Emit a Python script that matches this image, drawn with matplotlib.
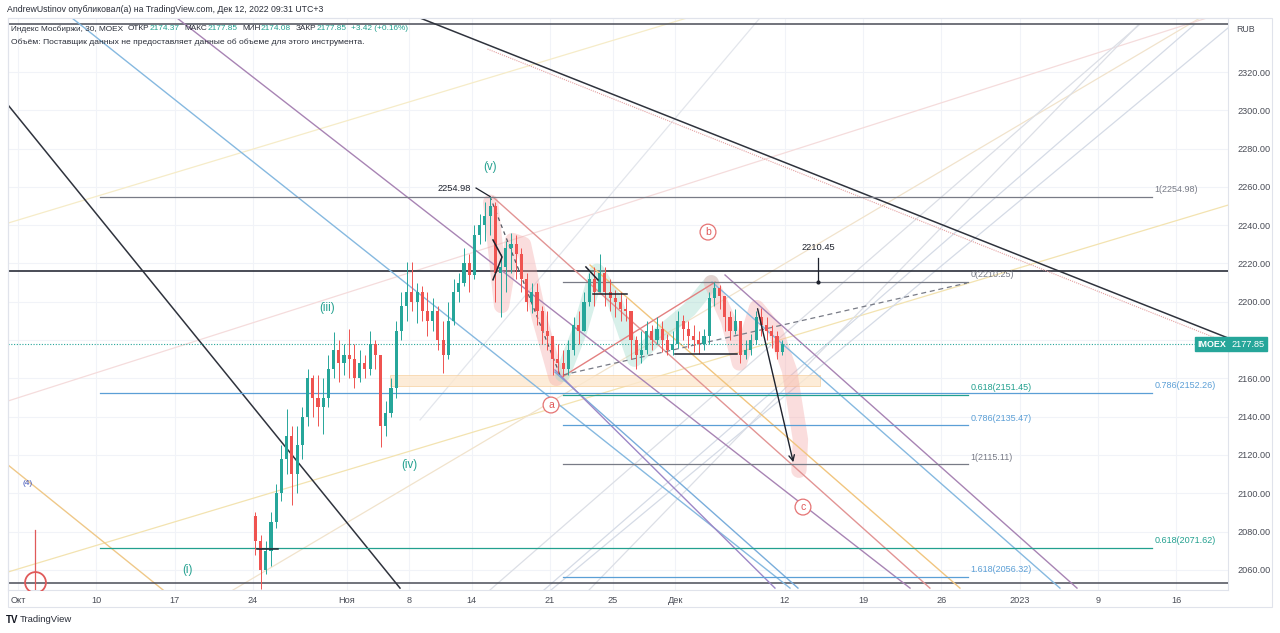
import matplotlib
matplotlib.use("Agg")
import matplotlib.pyplot as plt
from matplotlib.patches import Rectangle
import numpy as np

plt.rcParams['font.family'] = ['Liberation Sans', 'DejaVu Sans']

# time axis = trading-day index, 0 = 3 Oct 2022
tick_pos = [0, 5, 10, 15, 21, 25, 29, 34, 38, 42, 49, 54, 59, 64, 69, 74]
tick_labels = ['Окт', '10', '17', '24', 'Ноя', '8', '14', '21', '25', 'Дек',
               '12', '19', '26', '2023', '9', '16']
price_ticks = list(range(2060, 2340, 20))
last_price = 2177.85

# 30m candles, thinned to 3 per day, from 24 Oct (index 15)
first_day = 15
bars_per_day = 3
first_open = 2088
closes = [2075, 2060, 2070, 2085, 2100, 2118, 2130, 2110, 2125, 2140, 2160, 2150,
          2145, 2150, 2165, 2175, 2168, 2172, 2170, 2160, 2168, 2165, 2178, 2172,
          2135, 2142, 2155, 2185, 2198, 2205, 2200, 2205, 2195, 2190, 2195, 2180,
          2172, 2190, 2205, 2210, 2220, 2214, 2235, 2240, 2245, 2250, 2215, 2218,
          2228, 2230, 2225, 2212, 2200, 2205, 2195, 2185, 2182, 2170, 2168, 2165,
          2175, 2188, 2185, 2200, 2212, 2205, 2215, 2205, 2202, 2200, 2196, 2195,
          2180, 2172, 2175, 2185, 2180, 2186, 2180, 2175, 2178, 2190, 2186, 2182,
          2180, 2178, 2182, 2202, 2207, 2203, 2192, 2185, 2190, 2172, 2175, 2180,
          2192, 2188, 2185, 2182, 2174, 2177.85]
highs = [2090, 2078, 2075, 2090, 2105, 2125, 2144, 2135, 2135, 2145, 2165, 2162,
         2162, 2160, 2172, 2184, 2180, 2178, 2186, 2178, 2175, 2172, 2185, 2180,
         2158, 2148, 2160, 2190, 2205, 2221, 2221, 2210, 2208, 2205, 2202, 2198,
         2190, 2200, 2212, 2215, 2228, 2225, 2240, 2246, 2252, 2254.98, 2252, 2225,
         2232, 2236, 2235, 2228, 2215, 2210, 2210, 2198, 2195, 2182, 2178, 2175,
         2180, 2192, 2195, 2205, 2215, 2218, 2225, 2218, 2212, 2206, 2205, 2202,
         2195, 2182, 2185, 2190, 2188, 2192, 2190, 2183, 2185, 2195, 2193, 2190,
         2188, 2185, 2186, 2205, 2210.25, 2209, 2200, 2195, 2196, 2185, 2180, 2183,
         2195, 2197, 2192, 2188, 2185, 2180]
lows = [2068, 2050, 2058, 2062, 2082, 2096, 2110, 2094, 2100, 2118, 2135, 2140,
        2135, 2131, 2145, 2160, 2158, 2162, 2160, 2155, 2158, 2160, 2162, 2165,
        2124, 2130, 2140, 2150, 2180, 2190, 2195, 2189, 2190, 2182, 2185, 2175,
        2163, 2170, 2188, 2200, 2208, 2205, 2212, 2230, 2232, 2235, 2200, 2192,
        2205, 2215, 2212, 2205, 2195, 2194, 2188, 2178, 2175, 2162, 2163, 2161,
        2162, 2172, 2178, 2185, 2198, 2198, 2205, 2198, 2195, 2192, 2190, 2190,
        2170, 2165, 2168, 2173, 2175, 2178, 2174, 2172, 2172, 2176, 2180, 2176,
        2174, 2173, 2175, 2178, 2198, 2196, 2185, 2180, 2183, 2168, 2170, 2172,
        2178, 2182, 2180, 2176, 2170, 2172]

# full-width horizontal lines
hlines_full = [2345, 2053]
hline_strong = 2216

# big fib: anchors / levels
fib1_x = [5.24, 72.46]
fib1_levels = [2254.98, 2152.26, 2071.62]
fib1_names = ['1', '0.786', '0.618']
# small fib
fib2_x = [34.82, 60.70]
fib2_levels = [2210.25, 2151.45, 2135.47, 2115.11, 2056.32]
fib2_names = ['0', '0.618', '0.786', '1', '1.618']

# trend lines (index, price) pairs
black_lines = [[(25.69, 2348.2), (77.32, 2181.1)],
               [(-0.64, 2302.8), (24.41, 2050.5)]]
pink_dotted = [(30.0, 2332.0), (77.32, 2178.5)]
channel_lines = [[(3.45, 2348.2), (49.33, 2050.5)],
                 [(10.16, 2348.2), (57.0, 2050.5)],
                 [(30.35, 2254.7), (58.27, 2050.5)],
                 [(45.18, 2214.0), (67.67, 2050.5)],
                 [(44.35, 2210.3), (66.58, 2050.5)],
                 [(34.31, 2163.3), (49.84, 2050.5)],
                 [(34.31, 2164.4), (48.37, 2050.5)],
                 [(36.55, 2219.2), (60.19, 2050.5)],
                 [(34.82, 2161.0), (44.54, 2210.25)]]
channel_colors = ['#86b9e0', '#a884b4', '#e29494', '#a884b4', '#86b9e0',
                  '#79addb', '#9d86c6', '#f1c57f', '#e38080']
faint_lines = [[(-0.64, 2241.1), (42.75, 2348.2)],
               [(-0.64, 2058.9), (77.32, 2250.5)],
               [(13.74, 2049.5), (75.53, 2348.2)],
               [(-0.64, 2148.2), (75.97, 2348.2)],
               [(30.16, 2049.5), (71.63, 2344.5)],
               [(36.49, 2049.5), (71.57, 2344.5)],
               [(33.61, 2049.5), (75.14, 2344.5)],
               [(34.06, 2049.5), (77.32, 2343.0)],
               [(25.69, 2138.3), (47.41, 2348.2)]]
faint_colors = ['#f6ecc8', '#f3e3b0', '#f1e3cc', '#f5dcdc', '#dcdfe6',
                '#dcdfe6', '#d5dbe6', '#d5dbe6', '#e3e6ec']
orange_left = [(-0.64, 2114.8), (9.27, 2049.5)]
dashed_gray = [(34.82, 2161.8), (60.64, 2209.8)]
dashed_black = [(30.16, 2254.98), (34.63, 2161.8)]
small_black = [[(36.29, 2218.2), (37.06, 2211.4)],
               [(36.74, 2204.1), (38.91, 2204.1)],
               [(41.98, 2172.7), (45.94, 2172.7)],
               [(15.27, 2070.9), (16.61, 2070.9)],
               [(30.35, 2232.3), (30.93, 2223.4), (30.35, 2211.5)]]
arrow_from = (47.22, 2197.8)
arrow_to = (49.58, 2114.8)
zone = (23.77, 51.25, 2156.0, 2161.8)

# highlight brush strokes
pink_1 = [(30.2, 2252), (30.9, 2198), (31.6, 2232), (32.3, 2230), (33.3, 2192), (34.4, 2160)]
green_1 = [(34.8, 2162), (35.9, 2185), (37.0, 2216), (38.1, 2201), (39.4, 2170),
           (41.0, 2183), (42.9, 2196), (44.3, 2210)]
pink_2 = [(44.3, 2210), (45.4, 2190), (46.1, 2168), (47.2, 2197), (48.4, 2185),
          (49.3, 2164), (50.0, 2128), (49.9, 2112)]

wave_green = [('(v)', 30.16, 2270.4), ('(iii)', 19.74, 2196.8),
              ('(iv)', 24.98, 2114.8), ('(i)', 10.80, 2060.0)]
wave_red = [('b', 44.09, 2236.4), ('a', 34.06, 2146.1), ('c', 50.16, 2092.8)]

UP = '#26a69a'
DOWN = '#ef5350'
TEAL = '#22a08f'
BLUE = '#5b9fd6'
GRAY = '#787b86'
INK = '#2a2e39'

fig = plt.figure(figsize=(12.8, 6.33), dpi=100)
ax = fig.add_axes([8 / 1280, 43 / 633, 1220 / 1280, 572 / 633])
ax.set_xlim(-0.64, 77.32)
ax.set_ylim(2049.5, 2348.2)

for s in ax.spines.values():
    s.set_color('#e0e3eb')
    s.set_linewidth(0.8)
ax.set_xticks(tick_pos)
ax.set_xticklabels(tick_labels)
ax.set_yticks(price_ticks)
# 2180 is hidden under the last-price badge
ax.set_yticklabels(['' if v == 2180 else '%.2f' % v for v in price_ticks])
ax.yaxis.tick_right()
ax.tick_params(axis='both', length=0, labelsize=6.6, colors='#4a4d57')
ax.tick_params(axis='y', pad=7)
ax.tick_params(axis='x', pad=4)
ax.grid(True, color='#f1f3f8', lw=0.8)
ax.set_axisbelow(True)

for y in hlines_full:
    ax.axhline(y, color='#4a4d57', lw=1.1, zorder=3)
ax.axhline(hline_strong, color='#2a2e39', lw=1.2, zorder=3)

for seg, c in zip(faint_lines, faint_colors):
    xs_, ys_ = zip(*seg)
    ax.plot(xs_, ys_, color=c, lw=0.9, zorder=2)
xs_, ys_ = zip(*orange_left)
ax.plot(xs_, ys_, color='#efc888', lw=1.0, zorder=2)

# zone rectangle
ax.add_patch(Rectangle((zone[0], zone[2]), zone[1] - zone[0], zone[3] - zone[2],
                       fc='#fde8cf', ec='#f6cf9c', lw=0.6, alpha=0.8, zorder=2))

# brush strokes
for path, c in [(pink_1, '#f4a6a6'), (green_1, '#9ad8c8'), (pink_2, '#f4a6a6')]:
    xs_, ys_ = zip(*path)
    ax.plot(xs_, ys_, color=c, lw=11, alpha=0.38, solid_capstyle='round',
            solid_joinstyle='round', zorder=3)

for seg, c in zip(channel_lines, channel_colors):
    xs_, ys_ = zip(*seg)
    ax.plot(xs_, ys_, color=c, lw=1.0, zorder=4)
for seg in black_lines:
    xs_, ys_ = zip(*seg)
    ax.plot(xs_, ys_, color='#2f333d', lw=1.1, zorder=4)
xs_, ys_ = zip(*pink_dotted)
ax.plot(xs_, ys_, color='#e4a0a0', lw=0.8, ls=(0, (1, 1)), zorder=4)
xs_, ys_ = zip(*dashed_gray)
ax.plot(xs_, ys_, color=GRAY, lw=0.9, ls=(0, (4, 3)), zorder=4)
xs_, ys_ = zip(*dashed_black)
ax.plot(xs_, ys_, color='#555862', lw=0.9, ls=(0, (3, 3)), zorder=4)
for seg in small_black:
    xs_, ys_ = zip(*seg)
    ax.plot(xs_, ys_, color='#1e222d', lw=1.1, zorder=7)

# fib levels
fib1_colors = [GRAY, BLUE, TEAL]
for lvl, name, c in zip(fib1_levels, fib1_names, fib1_colors):
    ax.plot(fib1_x, [lvl, lvl], color=c, lw=0.9, zorder=4)
    ax.annotate('%s(%.2f)' % (name, lvl), (fib1_x[1], lvl), xytext=(2, 2),
                textcoords='offset points', va='bottom', ha='left',
                fontsize=6.5, color=c, zorder=8)
fib2_colors = [GRAY, TEAL, BLUE, GRAY, BLUE]
for lvl, name, c in zip(fib2_levels, fib2_names, fib2_colors):
    ax.plot(fib2_x, [lvl, lvl], color=c, lw=0.9, zorder=4)
    ax.annotate('%s(%.2f)' % (name, lvl), (fib2_x[1], lvl), xytext=(2, 2),
                textcoords='offset points', va='bottom', ha='left',
                fontsize=6.5, color=c, zorder=8)

# candles
closes = np.array(closes, float)
highs = np.array(highs, float)
lows = np.array(lows, float)
opens = np.r_[first_open, closes[:-1]]
xs = first_day + (np.arange(len(closes)) + 0.5) / bars_per_day
cols = np.where(closes >= opens, UP, DOWN)
top = np.maximum(highs, np.maximum(opens, closes))
bot = np.minimum(lows, np.minimum(opens, closes))
ax.vlines(xs, bot, top, colors=cols, lw=0.7, zorder=6)
ax.bar(xs, np.maximum(np.abs(closes - opens), 0.5), bottom=np.minimum(opens, closes),
       width=0.2, color=cols, lw=0, zorder=6)

# arrow and price markers
ax.annotate('', xy=arrow_to, xytext=arrow_from,
            arrowprops=dict(arrowstyle='->', color='#1e222d', lw=1.0), zorder=8)
ax.plot([29.27, 30.16], [2259.4, 2255.0], color='#1e222d', lw=0.9, zorder=8)
ax.text(28.95, 2259.4, '2254.98', ha='right', va='center', fontsize=6.7,
        color='#1e222d', zorder=8)
ax.plot([51.12, 51.12], [2223.0, 2210.45], color='#1e222d', lw=0.9, zorder=8)
ax.plot([51.12], [2210.45], 'o', color='#1e222d', ms=2, zorder=8)
ax.text(51.12, 2228.1, '2210.45', ha='center', va='center', fontsize=6.7,
        color='#1e222d', zorder=8)

# last price line and badge
ax.axhline(last_price, color=UP, lw=0.8, ls=(0, (1, 1.5)), zorder=5)
tr = ax.get_yaxis_transform()
ax.text(0.9869, last_price, 'IMOEX', transform=tr, ha='center', va='center',
        fontsize=6.4, color='white', fontweight='bold', zorder=10, clip_on=False,
        bbox=dict(boxstyle='square,pad=0.3', fc=UP, ec=UP))
ax.text(1.0164, last_price, '%.2f' % last_price, transform=tr, ha='center', va='center',
        fontsize=6.6, color='white', zorder=10, clip_on=False,
        bbox=dict(boxstyle='square,pad=0.3', fc=UP, ec=UP))

# wave labels
for s, x, y in wave_green:
    ax.text(x, y, s, ha='center', va='center', fontsize=8.3, color=TEAL, zorder=9)
ax.text(0.64, 2104.9, '(4)', ha='center', va='center', fontsize=6, color='#3d52b8', zorder=9)
for s, x, y in wave_red:
    ax.text(x, y, s, ha='center', va='center', fontsize=7.5, color='#e05a5a', zorder=9,
            bbox=dict(boxstyle='circle,pad=0.28', fc='white', ec='#e57373', lw=0.9))

# time-cycle marker bottom left
ax.plot([1.09, 1.09], [2080.8, 2049.5], color='#e05a5a', lw=0.9, zorder=8)
ax.plot([1.09], [2053.5], 'o', ms=15, mfc='none', mec='#e05a5a', mew=1.3, zorder=8)


def ftext(x, y, s, **kw):
    return fig.text(x / 1280, 1 - y / 633, s, va='center', **kw)


ftext(7, 10, 'AndrewUstinov опубликовал(а) на TradingView.com, Дек 12, 2022 09:31 UTC+3',
      fontsize=6.3, color=INK)

# legend line, laid out piece by piece
legend_parts = [('Индекс Мосбиржи, 30, MOEX', INK, 5), ('ОТКР', INK, 0),
                ('2174.37', TEAL, 5), ('МАКС', INK, 0), ('2177.85', TEAL, 5),
                ('МИН', INK, 0), ('2174.08', TEAL, 5), ('ЗАКР', INK, 0),
                ('2177.85', TEAL, 4), ('+3.42 (+0.16%)', TEAL, 0)]
renderer = fig.canvas.get_renderer()
xpos = 11
for s, c, gap in legend_parts:
    t = ftext(xpos, 29, s, fontsize=5.95, color=c)
    xpos += t.get_window_extent(renderer).width + gap
ftext(11, 42, 'Объём: Поставщик данных не предоставляет данные об объеме для этого инструмента.',
      fontsize=6.1, color=INK)
ftext(1236, 29, 'RUB', fontsize=6.4, color='#4a4d57')
ftext(6, 620, 'TV', fontsize=7, color='#131722', fontweight='bold')
ftext(20, 620, 'TradingView', fontsize=6.8, color=INK)

# outer frame of chart panel
fig.add_artist(Rectangle((8 / 1280, 1 - 607 / 633), 1264 / 1280, 589 / 633,
                         transform=fig.transFigure, fill=False, ec='#e0e3eb', lw=0.8))

fig.savefig('out.png', dpi=100, facecolor='white')
